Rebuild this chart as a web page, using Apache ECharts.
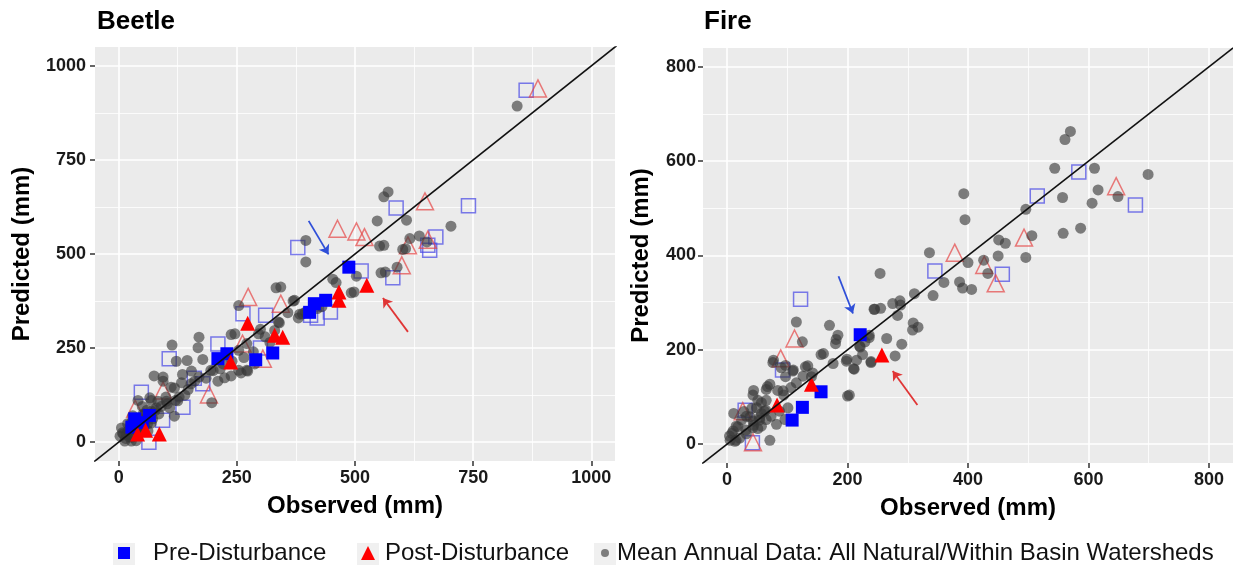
<!DOCTYPE html>
<html>
<head>
<meta charset="utf-8">
<script src="https://cdn.jsdelivr.net/npm/echarts@6/dist/echarts.min.js"></script>
<style>
  html, body { margin: 0; padding: 0; background: #fff; }
  #chart { width: 1233px; height: 569px; }
</style>
</head>
<body>
<div id="chart"></div>
<script>
// ---- data ----
const legendNames = ['Pre-Disturbance', 'Post-Disturbance', 'Mean Annual Data: All Natural/Within Basin Watersheds'];

const beetleTicks = [0, 250, 500, 750, 1000];
const beetleMinor = [125, 375, 625, 875];
const fireTicks = [0, 200, 400, 600, 800];
const fireMinor = [100, 300, 500, 700];

const oneToOne = [[-100, -100], [1200, 1200]];

// Beetle panel
const beetlePre = [[487,465],[438,377],[414,368],[404,345],[326,237],[290,219],[229,235],[210,222],[34,62],[65,71],[50,52],[28,40]];
const beetlePost = [[525,417],[466,377],[466,399],[347,279],[330,284],[273,316],[237,213],[86,22],[40,22],[57,32]];
const beetlePreOpen = [[862,935],[740,628],[587,622],[379,517],[513,455],[580,437],[658,510],[671,545],[654,523],[448,346],[406,337],[263,341],[311,337],[210,261],[107,222],[48,133],[136,93],[178,155],[93,58],[64,0],[300,250],[420,330],[160,170]];
const beetlePostOpen = [[887,940],[648,640],[463,567],[503,560],[520,545],[612,523],[599,470],[654,538],[274,386],[343,368],[191,127],[94,137],[35,89],[305,222],[262,262]];
const beetleMean = [[843,893],[570,665],[561,652],[609,590],[547,588],[703,574],[561,523],[616,541],[607,514],[636,548],[652,532],
  [396,536],[396,479],[498,399],[564,452],[589,465],[343,412],[254,363],[552,521],[601,512],[503,441],[492,397],[555,450],
  [333,410],[453,433],[460,424],[369,375],[358,344],[383,340],[340,317],[395,345],[420,355],[380,330],[430,360],[372,377],
  [389,341],[338,319],[330,297],[296,288],[271,262],[254,244],[221,208],[195,191],[271,191],[254,191],[288,208],[170,173],
  [153,155],[111,146],[145,217],[94,173],[120,111],[69,111],[52,75],[19,49],[10,22],[27,13],[44,31],[61,49],[77,84],
  [103,102],[128,120],[113,258],[168,251],[122,215],[75,176],[94,162],[154,189],[178,220],[133,158],[118,144],[41,111],
  [66,118],[83,109],[101,109],[80,91],[69,82],[55,74],[108,91],[118,69],[197,105],[238,286],[210,162],[224,171],[238,176],
  [259,184],[273,189],[161,162],[147,140],[6,38],[16,20],[27,3],[37,4],[13,3],[3,16],[41,56],[55,47],[69,51],[27,51],
  [51,29],[170,279],[246,288],[20,30],[25,45],[35,35],[45,62],[30,70],[60,85],[50,95],[40,25],[15,10],[8,25],[22,15],
  [33,18],[48,40],[62,30],[72,62],[85,75],[90,95],[100,120],[125,110],[140,125],[135,180],[185,170],[200,190],[300,300],
  [310,280],[320,265],[285,240],[265,225],[240,215],[215,195]];
const beetleArrows = [[[402,588],[444,499]], [[612,293],[559,383]]];

// Fire panel
const firePre = [[221,232],[156,111],[125,78],[108,51]];
const firePost = [[257,189],[140,127],[83,83]];
const firePreOpen = [[584,577],[515,526],[678,507],[345,367],[457,360],[122,307],[92,157],[30,72],[42,3]];
const firePostOpen = [[646,547],[493,438],[378,406],[427,380],[446,341],[112,224],[89,182],[26,70],[43,4]];
const fireMean = [[570,663],[561,646],[544,585],[610,585],[699,572],[616,539],[606,511],[649,525],[557,523],[558,447],
  [587,458],[393,531],[395,476],[496,498],[506,442],[496,396],[451,433],[462,426],[450,399],[336,406],[400,385],[426,390],
  [433,362],[360,343],[342,315],[386,344],[391,331],[406,328],[311,319],[287,304],[309,257],[317,248],[308,242],[275,298],
  [288,295],[283,273],[255,288],[254,362],[244,286],[265,224],[290,212],[279,187],[236,231],[229,217],[221,206],[239,175],
  [215,178],[199,180],[210,160],[170,252],[184,231],[180,213],[160,192],[176,171],[203,104],[115,259],[125,217],[110,157],
  [130,164],[140,143],[77,178],[97,167],[97,143],[67,122],[84,114],[94,104],[44,114],[71,8],[51,93],[65,93],[57,65],
  [38,58],[24,51],[18,37],[8,23],[15,8],[31,30],[44,40],[28,69],[5,8],[41,76],[11,65],[54,51],[64,72],[51,33],[109,155],
  [126,144],[134,166],[142,151],[76,173],[90,162],[43,104],[65,116],[71,127],[93,113],[106,120],[115,130],[57,88],[49,77],
  [62,70],[54,56],[65,52],[43,49],[32,59],[15,38],[10,28],[4,17],[13,6],[21,13],[32,22],[43,35],[57,38],[73,59],[87,70],
  [101,77],[96,52],[82,42],[200,102],[198,176],[211,159],[239,173],[236,226],[245,286],[220,208],[225,190],[156,190],[181,222]];
const fireArrows = [[[185,356],[209,277]], [[316,83],[275,155]]];

// ---- chart ----
const FONT = '"Liberation Sans", Arial, sans-serif';
const chart = echarts.init(document.getElementById('chart'));

function mainAxis(gridIndex, min, max, ticks, name, nameGap, labelMargin) {
  return {
    type: 'value', gridIndex: gridIndex, min: min, max: max,
    axisLine: { show: false, onZero: false },
    axisTick: { show: true, length: 5, customValues: ticks, lineStyle: { color: '#333', width: 1.5 } },
    axisLabel: { customValues: ticks, formatter: v => String(v), fontSize: 18, fontWeight: 'bold',
      fontFamily: FONT, color: '#1a1a1a', margin: labelMargin },
    splitLine: { show: true, lineStyle: { color: '#fff', width: 1.6 } },
    name: name, nameLocation: 'middle', nameGap: nameGap,
    nameTextStyle: { fontSize: 24, fontWeight: 'bold', fontFamily: FONT, color: '#000' }
  };
}
function minorAxis(gridIndex, min, max, vals) {
  return {
    type: 'value', gridIndex: gridIndex, min: min, max: max,
    axisLine: { show: false, onZero: false },
    axisTick: { show: false, customValues: vals },
    axisLabel: { show: false },
    splitLine: { show: true, lineStyle: { color: '#fff', width: 0.8 } }
  };
}

function panelSeries(g, pre, post, preOpen, postOpen, mean, arrows) {
  return [
    { type: 'scatter', name: 'open-pre', xAxisIndex: g, yAxisIndex: g, data: preOpen, symbol: 'rect', symbolSize: 14,
      itemStyle: { color: 'rgba(0,0,0,0)', borderColor: 'rgba(70,70,230,0.7)', borderWidth: 1.5, opacity: 1 } },
    { type: 'scatter', name: 'open-post', xAxisIndex: g, yAxisIndex: g, data: postOpen, symbol: 'triangle', symbolSize: 17,
      itemStyle: { color: 'rgba(0,0,0,0)', borderColor: 'rgba(230,70,70,0.7)', borderWidth: 1.5, opacity: 1 } },
    { type: 'scatter', name: legendNames[2], xAxisIndex: g, yAxisIndex: g, data: mean, symbol: 'circle', symbolSize: 11,
      itemStyle: { color: 'rgba(55,55,55,0.62)', opacity: 1 } },
    { type: 'scatter', name: legendNames[0], xAxisIndex: g, yAxisIndex: g, data: pre, symbol: 'rect', symbolSize: 13,
      itemStyle: { color: '#0000ff', opacity: 1 } },
    { type: 'scatter', name: legendNames[1], xAxisIndex: g, yAxisIndex: g, data: post, symbol: 'triangle', symbolSize: 15,
      itemStyle: { color: '#ff0000', opacity: 1 } },
    { type: 'line', xAxisIndex: g, yAxisIndex: g, data: oneToOne, symbol: 'none', clip: true,
      lineStyle: { color: '#111', width: 1.6 } },
    { type: 'lines', coordinateSystem: 'cartesian2d', xAxisIndex: g, yAxisIndex: g,
      symbol: ['none', 'arrow'], symbolSize: 9,
      data: [
        { coords: arrows[0], lineStyle: { color: '#2f4fd8', width: 1.8, opacity: 1 } },
        { coords: arrows[1], lineStyle: { color: '#e03535', width: 1.8, opacity: 1 } }
      ] }
  ];
}

function legendText(gap) {
  return { fontSize: 24, fontFamily: FONT, color: '#111', rich: { g: { width: gap } } };
}
const legendFormatter = name => '{g| }' + name;

chart.setOption({
  animation: false,
  title: [
    { text: 'Beetle', left: 97, top: 9, padding: 0, textStyle: { fontSize: 26, fontWeight: 'bold', fontFamily: FONT, color: '#000' } },
    { text: 'Fire', left: 704, top: 9, padding: 0, textStyle: { fontSize: 26, fontWeight: 'bold', fontFamily: FONT, color: '#000' } }
  ],
  grid: [
    { left: 95, top: 47, width: 520, height: 414, show: true, backgroundColor: '#ebebeb', borderWidth: 0 },
    { left: 703, top: 48, width: 530, height: 415, show: true, backgroundColor: '#ebebeb', borderWidth: 0 }
  ],
  xAxis: [
    mainAxis(0, -50, 1050, beetleTicks, 'Observed (mm)', 33, 8),
    mainAxis(1, -40, 840, fireTicks, 'Observed (mm)', 33, 8),
    minorAxis(0, -50, 1050, beetleMinor),
    minorAxis(1, -40, 840, fireMinor)
  ],
  yAxis: [
    mainAxis(0, -50, 1050, beetleTicks, 'Predicted (mm)', 61, 9),
    mainAxis(1, -40, 840, fireTicks, 'Predicted (mm)', 50, 7),
    minorAxis(0, -50, 1050, beetleMinor),
    minorAxis(1, -40, 840, fireMinor)
  ],
  legend: [
    { data: [{ name: legendNames[0], icon: 'rect' }], left: 118, top: 541, padding: 0, itemWidth: 12, itemHeight: 12,
      textStyle: legendText(18), formatter: legendFormatter, selectedMode: false },
    { data: [{ name: legendNames[1], icon: 'triangle' }], left: 361, top: 541, padding: 0, itemWidth: 14, itemHeight: 14,
      textStyle: legendText(5), formatter: legendFormatter, selectedMode: false },
    { data: [{ name: legendNames[2], icon: 'circle' }], left: 601, top: 541, padding: 0, itemWidth: 8, itemHeight: 8,
      textStyle: legendText(3), formatter: legendFormatter, selectedMode: false }
  ],
  graphic: [
    { type: 'rect', z: -1, shape: { x: 113, y: 543, width: 22, height: 22 }, style: { fill: '#f0f0f0' } },
    { type: 'rect', z: -1, shape: { x: 357, y: 543, width: 22, height: 22 }, style: { fill: '#f0f0f0' } },
    { type: 'rect', z: -1, shape: { x: 594, y: 543, width: 22, height: 22 }, style: { fill: '#f0f0f0' } }
  ],
  series: [].concat(
    panelSeries(0, beetlePre, beetlePost, beetlePreOpen, beetlePostOpen, beetleMean, beetleArrows),
    panelSeries(1, firePre, firePost, firePreOpen, firePostOpen, fireMean, fireArrows)
  )
});
</script>
</body>
</html>
